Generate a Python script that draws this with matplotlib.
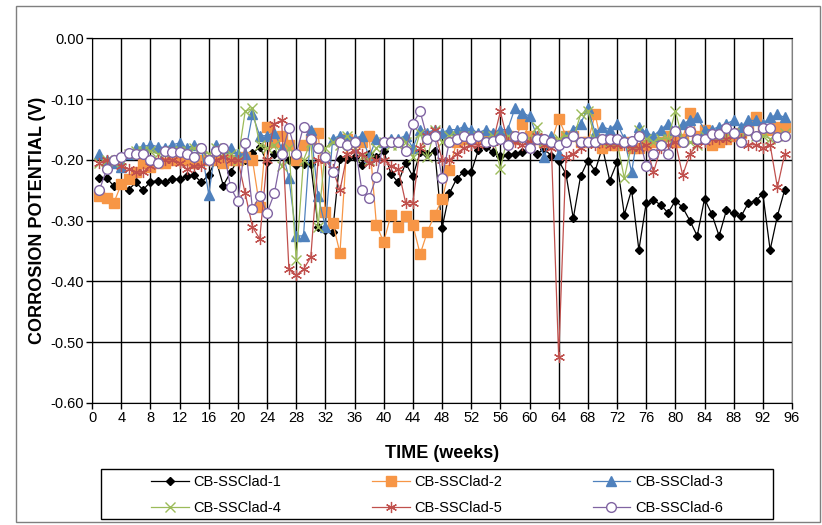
import numpy as np
import matplotlib
matplotlib.use("Agg")
import matplotlib.pyplot as plt
from matplotlib.patches import Rectangle
from matplotlib.ticker import FuncFormatter

# weekly readings, weeks 1..95
weeks = np.arange(1, 96)

clad1 = [-0.230, -0.230, -0.243, -0.238, -0.249, -0.237, -0.249, -0.236, -0.234, -0.237,
         -0.231, -0.232, -0.226, -0.225, -0.237, -0.224, -0.200, -0.242, -0.220, -0.200,
         -0.200, -0.189, -0.179, -0.203, -0.190, -0.185, -0.200, -0.209, -0.206, -0.206,
         -0.310, -0.316, -0.318, -0.198, -0.198, -0.195, -0.208, -0.190, -0.195, -0.185,
         -0.223, -0.237, -0.205, -0.227, -0.187, -0.190, -0.185, -0.312, -0.255, -0.231,
         -0.219, -0.220, -0.183, -0.179, -0.187, -0.193, -0.191, -0.190, -0.187, -0.179,
         -0.190, -0.182, -0.193, -0.201, -0.223, -0.296, -0.227, -0.201, -0.218, -0.179,
         -0.234, -0.204, -0.290, -0.249, -0.348, -0.271, -0.266, -0.274, -0.287, -0.267,
         -0.278, -0.300, -0.325, -0.264, -0.289, -0.325, -0.283, -0.288, -0.293, -0.271,
         -0.267, -0.256, -0.348, -0.292, -0.249]

clad2 = [-0.260, -0.263, -0.270, -0.240, -0.232, -0.220, -0.205, -0.212, -0.205, -0.205,
         -0.200, -0.200, -0.200, -0.205, -0.200, -0.200, -0.200, -0.205, -0.200, -0.200,
         -0.195, -0.200, -0.278, -0.145, -0.170, -0.160, -0.175, -0.200, -0.175, -0.165,
         -0.155, -0.285, -0.303, -0.353, -0.165, -0.170, -0.170, -0.160, -0.307, -0.335,
         -0.290, -0.310, -0.293, -0.307, -0.355, -0.318, -0.290, -0.265, -0.217, -0.170,
         -0.165, -0.165, -0.165, -0.160, -0.160, -0.160, -0.160, -0.165, -0.140, -0.160,
         -0.165, -0.170, -0.170, -0.132, -0.160, -0.160, -0.170, -0.170, -0.125, -0.180,
         -0.175, -0.175, -0.170, -0.180, -0.180, -0.175, -0.170, -0.170, -0.160, -0.170,
         -0.165, -0.122, -0.160, -0.150, -0.175, -0.170, -0.165, -0.160, -0.155, -0.150,
         -0.130, -0.150, -0.150, -0.145, -0.145]

clad3 = [-0.190, -0.200, -0.205, -0.212, -0.190, -0.180, -0.178, -0.175, -0.178, -0.180,
         -0.175, -0.172, -0.180, -0.175, -0.180, -0.257, -0.175, -0.180, -0.180, -0.190,
         -0.190, -0.125, -0.160, -0.160, -0.155, -0.180, -0.230, -0.325, -0.325, -0.150,
         -0.260, -0.310, -0.165, -0.160, -0.160, -0.165, -0.160, -0.195, -0.165, -0.170,
         -0.165, -0.165, -0.160, -0.180, -0.150, -0.155, -0.150, -0.155, -0.150, -0.150,
         -0.145, -0.150, -0.155, -0.150, -0.155, -0.150, -0.150, -0.115, -0.122, -0.128,
         -0.160, -0.195, -0.160, -0.190, -0.160, -0.150, -0.140, -0.115, -0.155, -0.145,
         -0.150, -0.140, -0.165, -0.220, -0.145, -0.155, -0.160, -0.150, -0.140, -0.150,
         -0.140, -0.135, -0.130, -0.150, -0.150, -0.145, -0.140, -0.135, -0.145, -0.135,
         -0.135, -0.140, -0.130, -0.125, -0.130]

clad4 = [-0.205, -0.200, -0.205, -0.200, -0.190, -0.185, -0.185, -0.185, -0.190, -0.190,
         -0.185, -0.185, -0.185, -0.180, -0.185, -0.190, -0.180, -0.190, -0.190, -0.200,
         -0.120, -0.115, -0.175, -0.180, -0.175, -0.210, -0.180, -0.365, -0.200, -0.170,
         -0.310, -0.180, -0.170, -0.175, -0.160, -0.180, -0.195, -0.200, -0.180, -0.170,
         -0.175, -0.175, -0.170, -0.195, -0.155, -0.195, -0.150, -0.170, -0.160, -0.160,
         -0.160, -0.165, -0.160, -0.165, -0.160, -0.215, -0.160, -0.165, -0.165, -0.165,
         -0.145, -0.170, -0.170, -0.165, -0.160, -0.165, -0.125, -0.120, -0.165, -0.170,
         -0.170, -0.170, -0.230, -0.175, -0.150, -0.165, -0.170, -0.165, -0.165, -0.120,
         -0.165, -0.170, -0.175, -0.160, -0.160, -0.160, -0.160, -0.155, -0.160, -0.155,
         -0.160, -0.160, -0.165, -0.160, -0.155]

clad5 = [-0.205, -0.200, -0.200, -0.210, -0.215, -0.220, -0.220, -0.210, -0.200, -0.200,
         -0.200, -0.205, -0.215, -0.210, -0.210, -0.200, -0.200, -0.195, -0.200, -0.200,
         -0.255, -0.310, -0.330, -0.200, -0.140, -0.135, -0.380, -0.390, -0.380, -0.360,
         -0.200, -0.200, -0.215, -0.250, -0.190, -0.185, -0.190, -0.205, -0.200, -0.200,
         -0.210, -0.215, -0.270, -0.270, -0.180, -0.160, -0.150, -0.200, -0.200, -0.190,
         -0.180, -0.175, -0.175, -0.170, -0.170, -0.120, -0.170, -0.170, -0.175, -0.170,
         -0.160, -0.175, -0.180, -0.525, -0.195, -0.190, -0.180, -0.170, -0.175, -0.170,
         -0.175, -0.175, -0.175, -0.180, -0.180, -0.175, -0.220, -0.180, -0.175, -0.170,
         -0.225, -0.190, -0.175, -0.170, -0.165, -0.165, -0.165, -0.160, -0.165, -0.175,
         -0.175, -0.180, -0.175, -0.245, -0.190]

clad6 = [-0.250, -0.215, -0.200, -0.195, -0.188, -0.190, -0.190, -0.200, -0.205, -0.185,
         -0.187, -0.187, -0.190, -0.195, -0.180, -0.200, -0.185, -0.180, -0.245, -0.268,
         -0.172, -0.280, -0.260, -0.287, -0.255, -0.190, -0.148, -0.190, -0.145, -0.165,
         -0.180, -0.195, -0.220, -0.170, -0.175, -0.170, -0.250, -0.262, -0.228, -0.170,
         -0.170, -0.170, -0.185, -0.140, -0.120, -0.165, -0.160, -0.230, -0.170, -0.165,
         -0.160, -0.165, -0.160, -0.170, -0.168, -0.165, -0.175, -0.160, -0.162, -0.180,
         -0.165, -0.165, -0.170, -0.175, -0.170, -0.160, -0.170, -0.170, -0.170, -0.165,
         -0.165, -0.165, -0.170, -0.168, -0.160, -0.210, -0.190, -0.175, -0.190, -0.152,
         -0.170, -0.152, -0.165, -0.165, -0.158, -0.158, -0.148, -0.155, -0.170, -0.150,
         -0.160, -0.148, -0.148, -0.162, -0.160]

labels = ["CB-SSClad-1", "CB-SSClad-2", "CB-SSClad-3",
          "CB-SSClad-4", "CB-SSClad-5", "CB-SSClad-6"]

plt.rcParams["font.family"] = ["Liberation Sans", "DejaVu Sans"]

fig = plt.figure(figsize=(8.22, 5.25), dpi=100)
ax = fig.add_axes([0.112, 0.2324, 0.8515, 0.6943])

# outer chart frame
fig.patches.append(Rectangle((16 / 822, 3 / 525), 804 / 822, 516 / 525,
                             transform=fig.transFigure, fill=False,
                             edgecolor="#7f7f7f", linewidth=1.0))
# legend frame (drawn separately so the entries can sit centred inside)
fig.patches.append(Rectangle((101 / 822, 6 / 525), 672 / 822, 50 / 525,
                             transform=fig.transFigure, fill=False,
                             edgecolor="black", linewidth=1.0))

styles = [
    dict(color="black", marker="D", ms=4.5, mfc="black", mec="black"),
    dict(color="#F79646", marker="s", ms=6.5, mfc="#F79646", mec="#F79646"),
    dict(color="#4F81BD", marker="^", ms=7, mfc="#4F81BD", mec="#4F81BD"),
    dict(color="#9BBB59", marker="x", ms=7, mew=1.0),
    dict(color="#C0504D", marker=(6, 2, 0), ms=8, mew=0.9),
    dict(color="#8064A2", marker="o", ms=7, mfc="white", mec="#8064A2", mew=1.0),
]

handles = []
for vals, lab, st in zip([clad1, clad2, clad3, clad4, clad5, clad6], labels, styles):
    h, = ax.plot(weeks, vals, lw=0.9, label=lab, **st)
    handles.append(h)

ax.set_xlim(0, 96)
ax.set_ylim(-0.6, 0.0)
ax.set_xticks(np.arange(0, 97, 4))
ax.set_yticks(np.arange(-0.6, 0.001, 0.1))
ax.yaxis.set_major_formatter(FuncFormatter(lambda v, p: f"{v:.2f}".replace("-0.00", "0.00")))
ax.grid(True, color="black", linewidth=1.0)
ax.set_axisbelow(True)
for s in ["left", "bottom", "top"]:
    ax.spines[s].set_color("black")
ax.spines["right"].set_color("#808080")
ax.tick_params(direction="out", length=4, width=1, labelsize=10.5, pad=2)

ax.set_xlabel("TIME (weeks)", fontsize=13, fontweight="bold", labelpad=14)
ax.set_ylabel("CORROSION POTENTIAL (V)", fontsize=13, fontweight="bold", labelpad=3)

order = [0, 3, 1, 4, 2, 5]
leg = fig.legend([handles[i] for i in order], [labels[i] for i in order],
                 ncol=3, loc="center", bbox_to_anchor=(437 / 822, 1 - 495 / 525),
                 frameon=False, fontsize=10.5, handlelength=2.6, handletextpad=0.3,
                 labelspacing=0.8, columnspacing=6.2)

fig.savefig("out.png", dpi=100)
